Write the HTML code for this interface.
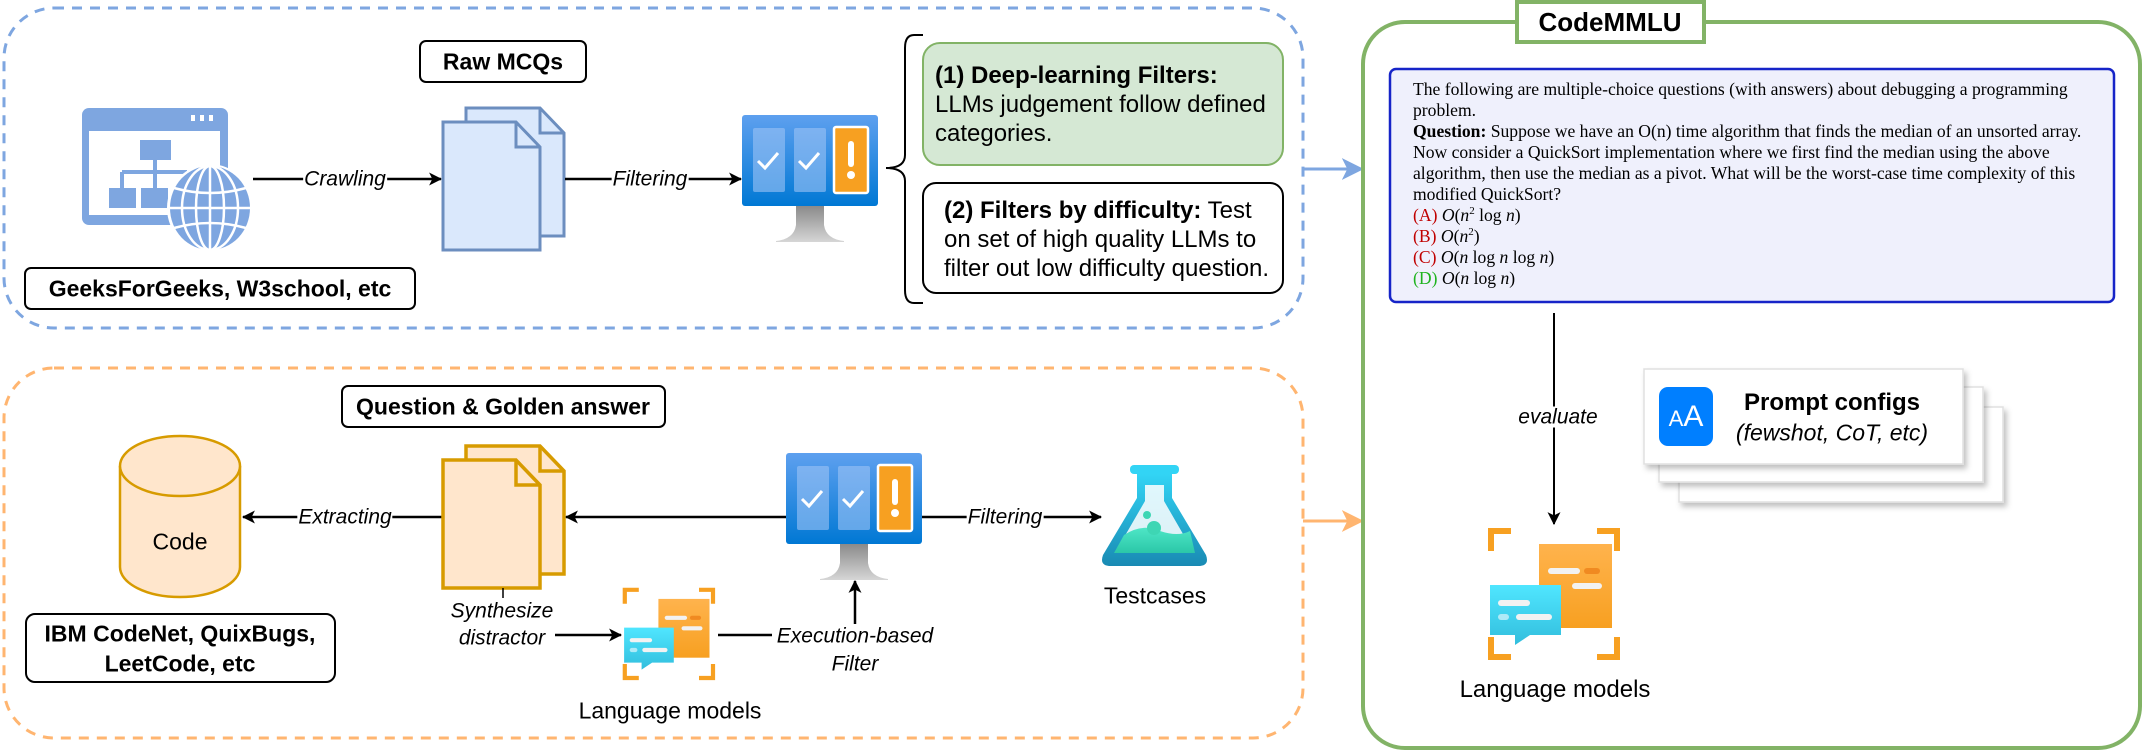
<!DOCTYPE html>
<html><head><meta charset="utf-8">
<style>
html,body{margin:0;padding:0;background:#fff;}
#root{position:relative;width:2144px;height:752px;overflow:hidden;font-family:"Liberation Sans",Arial,sans-serif;color:#000;}
svg{position:absolute;left:0;top:0;}
.c{position:absolute;transform:translate(-50%,-50%);white-space:nowrap;line-height:1;}
.lbl{font-style:italic;font-size:21px;background:#fff;padding:0 1px;}
.b{font-weight:bold;font-size:23px;}
.t{position:absolute;white-space:nowrap;}
.q{font-family:"Liberation Serif","Times New Roman",serif;font-size:17.6px;line-height:21px;left:1413px;top:79px;}
.red{color:#c00000;} .grn{color:#1fb31f;}
.m{font-style:italic;}
</style></head><body><div id="root">
<svg width="2144" height="752" viewBox="0 0 2144 752">
<defs>
<marker id="ar" viewBox="0 0 12 12" refX="11" refY="6" markerWidth="13" markerHeight="13" markerUnits="userSpaceOnUse" orient="auto">
<path d="M0,0 L12,6 L0,12 L3,6 z" fill="#000"/></marker>
<marker id="arB" viewBox="0 0 12 12" refX="11" refY="6" markerWidth="22" markerHeight="22" markerUnits="userSpaceOnUse" orient="auto">
<path d="M0,0 L12,6 L0,12 L3,6 z" fill="#7EA6E0"/></marker>
<marker id="arO" viewBox="0 0 12 12" refX="11" refY="6" markerWidth="22" markerHeight="22" markerUnits="userSpaceOnUse" orient="auto">
<path d="M0,0 L12,6 L0,12 L3,6 z" fill="#FFB570"/></marker>
<linearGradient id="scr" x1="0" y1="0" x2="0" y2="1"><stop offset="0" stop-color="#5EA0EF"/><stop offset="1" stop-color="#0078D4"/></linearGradient>
<linearGradient id="std" x1="0" y1="0" x2="0" y2="1"><stop offset="0" stop-color="#8a8a8a"/><stop offset="1" stop-color="#d6d6d6"/></linearGradient>
<linearGradient id="og" x1="0" y1="0" x2="0" y2="1"><stop offset="0" stop-color="#FFB34D"/><stop offset="1" stop-color="#F7A021"/></linearGradient>
<linearGradient id="cy" x1="0" y1="0" x2="0" y2="1"><stop offset="0" stop-color="#50E6FF"/><stop offset="1" stop-color="#32BEDD"/></linearGradient>
<linearGradient id="fl" x1="0" y1="0" x2="0" y2="1"><stop offset="0" stop-color="#32D4F5"/><stop offset="1" stop-color="#198AB3"/></linearGradient>
<linearGradient id="liq" x1="0" y1="0" x2="0" y2="1"><stop offset="0" stop-color="#4EE6C6"/><stop offset="1" stop-color="#2BC7A8"/></linearGradient>
<filter id="sh" x="-10%" y="-10%" width="130%" height="140%"><feDropShadow dx="3" dy="4" stdDeviation="3" flood-color="#000" flood-opacity="0.25"/></filter>
<g id="mon">
<rect x="0" y="0" width="136" height="91" rx="3" fill="url(#scr)"/>
<rect x="11" y="13" width="32" height="64" rx="2" fill="#9CC3F5" opacity="0.6"/>
<rect x="52" y="13" width="32" height="64" rx="2" fill="#9CC3F5" opacity="0.6"/>
<path d="M16,46 L23,53 L36,38" stroke="#fff" stroke-width="3" fill="none"/>
<path d="M57,46 L64,53 L77,38" stroke="#fff" stroke-width="3" fill="none"/>
<rect x="92" y="12" width="34" height="66" rx="2" fill="#F7A021" stroke="#fff" stroke-width="2.5"/>
<rect x="106" y="26" width="6" height="26" rx="3" fill="#fff"/>
<circle cx="109" cy="60" r="4" fill="#fff"/>
<path d="M54,91 L82,91 L82,110 Q84,124 102,126 L102,127 L34,127 L34,126 Q52,124 54,110 Z" fill="url(#std)"/>
</g>
<g id="lm">
<path d="M4,24 V4 H24 M110,4 H130 V24 M4,110 V130 H24 M110,130 H130 V110" stroke="#F7A021" stroke-width="6" fill="none"/>
<rect x="52" y="17" width="73" height="84" fill="url(#og)"/>
<rect x="61" y="41" width="32" height="6" rx="3" fill="#f2f2f2"/>
<rect x="97" y="41" width="16" height="6" rx="3" fill="#F08A21"/>
<rect x="85" y="56" width="30" height="6" rx="3" fill="#f2f2f2"/>
<path d="M3,58 H74 V108 H43 L28,118 L28,108 H3 Z" fill="url(#cy)"/>
<rect x="11" y="73" width="32" height="6" rx="3" fill="#f2f2f2"/>
<rect x="11" y="87" width="11" height="6" rx="3" fill="#aeeaf7"/>
<rect x="29" y="87" width="36" height="6" rx="3" fill="#f2f2f2"/>
</g>
</defs>

<rect x="4" y="8" width="1299" height="320" rx="50" fill="none" stroke="#7EA6E0" stroke-width="3" stroke-dasharray="10 8"/>
<rect x="4" y="368" width="1299" height="370" rx="50" fill="none" stroke="#FFB570" stroke-width="3" stroke-dasharray="10 8"/>
<line x1="1303" y1="169" x2="1362" y2="169" stroke="#7EA6E0" stroke-width="3" marker-end="url(#arB)"/>
<line x1="1303" y1="521" x2="1362" y2="521" stroke="#FFB570" stroke-width="3" marker-end="url(#arO)"/>

<rect x="1363" y="22" width="777" height="726" rx="42" fill="none" stroke="#82B366" stroke-width="4"/>
<rect x="1517" y="2" width="187" height="40" fill="#fff" stroke="#82B366" stroke-width="4"/>
<rect x="1390" y="69" width="724" height="233" rx="6" fill="#EFF0FC" stroke="#1624C8" stroke-width="2.5"/>
<line x1="1554" y1="313" x2="1554" y2="524" stroke="#000" stroke-width="2" marker-end="url(#ar)"/>
<rect x="1679" y="407" width="324" height="95" fill="#fff" stroke="#e0e0e0" stroke-width="1.5" filter="url(#sh)"/>
<rect x="1659" y="387" width="324" height="95" fill="#fff" stroke="#e0e0e0" stroke-width="1.5" filter="url(#sh)"/>
<rect x="1644" y="369" width="319" height="95" fill="#fff" stroke="#e0e0e0" stroke-width="1.5" filter="url(#sh)"/>
<rect x="1659" y="387" width="54" height="59" rx="9" fill="#007FFF"/>
<use href="#lm" transform="translate(1487,527)"/>

<rect x="420" y="41" width="166" height="41" rx="6" fill="#fff" stroke="#000" stroke-width="2"/>
<rect x="25" y="268" width="390" height="41" rx="6" fill="#fff" stroke="#000" stroke-width="2"/>
<g transform="translate(82,108)">
<rect x="0" y="0" width="146" height="117" rx="7" fill="#7EA6E0"/>
<rect x="7" y="23" width="131" height="84" fill="#fff"/>
<rect x="109" y="7" width="4" height="6" fill="#fff"/><rect x="118" y="7" width="4" height="6" fill="#fff"/><rect x="127" y="7" width="4" height="6" fill="#fff"/>
<rect x="58" y="32" width="31" height="20" fill="#7EA6E0"/>
<path d="M73,52 V64 M40,64 H105 M40,64 V80 M73,64 V80 M105,64 V80" stroke="#7EA6E0" stroke-width="4" fill="none"/>
<rect x="27" y="80" width="27" height="20" fill="#7EA6E0"/><rect x="59" y="80" width="27" height="20" fill="#7EA6E0"/>
<ellipse cx="128" cy="100" rx="43" ry="44" fill="#fff"/>
<ellipse cx="128" cy="100" rx="40" ry="42" fill="#7EA6E0"/>
<g stroke="#fff" stroke-width="2.5" fill="none">
<ellipse cx="128" cy="100" rx="14" ry="42"/><ellipse cx="128" cy="100" rx="28" ry="42"/>
<line x1="128" y1="58" x2="128" y2="142"/>
<path d="M92,80 Q128,90 164,80 M88,100 H168 M92,120 Q128,110 164,120"/>
</g>
</g>
<line x1="253" y1="179" x2="441" y2="179" stroke="#000" stroke-width="2.5" marker-end="url(#ar)"/>
<g fill="#DAE8FC" stroke="#6C8EBF" stroke-width="3">
<path d="M466,108 H540 L564,133 V236 H466 Z"/><path d="M540,108 V133 H564" fill="none"/>
<path d="M443,122 H516 L540,147 V250 H443 Z"/><path d="M516,122 V147 H540" fill="none"/>
</g>
<line x1="565" y1="179" x2="741" y2="179" stroke="#000" stroke-width="2.5" marker-end="url(#ar)"/>
<use href="#mon" transform="translate(742,115)"/>
<path d="M923,35 H914 Q905,35 905,48 V155 Q905,168 886,168 Q905,168 905,181 V290 Q905,303 914,303 H923" fill="none" stroke="#000" stroke-width="2"/>
<rect x="923" y="43" width="360" height="122" rx="17" fill="#D5E8D4" stroke="#82B366" stroke-width="2"/>
<rect x="923" y="183" width="360" height="110" rx="13" fill="#fff" stroke="#000" stroke-width="2"/>

<rect x="342" y="386" width="323" height="41" rx="6" fill="#fff" stroke="#000" stroke-width="2"/>
<rect x="26" y="614" width="309" height="68" rx="9" fill="#fff" stroke="#000" stroke-width="2"/>
<path d="M120,466 V567 A60,30 0 0 0 240,567 V466" fill="#FFE6CC" stroke="#D79B00" stroke-width="2.5"/>
<ellipse cx="180" cy="466" rx="60" ry="30" fill="#FFE6CC" stroke="#D79B00" stroke-width="2.5"/>
<line x1="442" y1="517" x2="243" y2="517" stroke="#000" stroke-width="2.5" marker-end="url(#ar)"/>
<g fill="#FFE6CC" stroke="#D79B00" stroke-width="3.5">
<path d="M466,446 H540 L564,471 V574 H466 Z"/><path d="M540,446 V471 H564" fill="none"/>
<path d="M443,460 H516 L540,485 V588 H443 Z"/><path d="M516,460 V485 H540" fill="none"/>
</g>
<line x1="786" y1="517" x2="566" y2="517" stroke="#000" stroke-width="2.5" marker-end="url(#ar)"/>
<use href="#mon" transform="translate(786,453)"/>
<line x1="922" y1="517" x2="1101" y2="517" stroke="#000" stroke-width="2.5" marker-end="url(#ar)"/>
<g transform="translate(1102,465)">
<rect x="28" y="0" width="49" height="9" rx="4" fill="#32D4F5"/>
<path d="M35,9 H70 V33 L104,90 Q108,101 96,101 H9 Q-3,101 1,90 L35,33 Z" fill="url(#fl)"/>
<path d="M43,20 H62 V36 L92,88 H13 L43,36 Z" fill="#fff" opacity="0.85"/>
<path d="M22,70 Q40,58 58,66 Q76,72 88,66 L93,88 H12 Z" fill="url(#liq)"/>
<circle cx="45" cy="50" r="4" fill="#3ED6B4"/><circle cx="52" cy="63" r="7" fill="#3ED6B4"/>
</g>
<line x1="503" y1="588" x2="503" y2="598" stroke="#000" stroke-width="1.5"/>
<line x1="555" y1="635" x2="621" y2="635" stroke="#000" stroke-width="2.5" marker-end="url(#ar)"/>
<use href="#lm" transform="translate(622,587) scale(0.7)"/>
<line x1="718" y1="635" x2="772" y2="635" stroke="#000" stroke-width="2.5"/>
<line x1="855" y1="624" x2="855" y2="581" stroke="#000" stroke-width="2.5" marker-end="url(#ar)"/>
</svg>

<div class="c b" style="left:1610px;top:22px;font-size:26px;">CodeMMLU</div>
<div class="c b" style="left:503px;top:62px;">Raw MCQs</div>
<div class="c b" style="left:220px;top:289px;">GeeksForGeeks, W3school, etc</div>
<div class="c lbl" style="left:345px;top:179px;">Crawling</div>
<div class="c lbl" style="left:650px;top:179px;">Filtering</div>
<div class="t" style="left:935px;top:61px;font-size:24px;line-height:29px;"><b>(1) Deep-learning Filters:</b><br>LLMs judgement follow defined<br>categories.</div>
<div class="t" style="left:944px;top:196px;font-size:24px;line-height:29px;"><b>(2) Filters by difficulty:</b> Test<br>on set of high quality LLMs to<br>filter out low difficulty question.</div>

<div class="c b" style="left:503px;top:407px;">Question &amp; Golden answer</div>
<div class="c" style="left:180px;top:542px;font-size:23px;">Code</div>
<div class="c b" style="left:180px;top:634px;">IBM CodeNet, QuixBugs,</div>
<div class="c b" style="left:180px;top:664px;">LeetCode, etc</div>
<div class="c lbl" style="left:345px;top:517px;">Extracting</div>
<div class="c lbl" style="left:1005px;top:517px;">Filtering</div>
<div class="c" style="left:1155px;top:596px;font-size:23px;">Testcases</div>
<div class="c lbl" style="left:502px;top:611px;">Synthesize</div>
<div class="c lbl" style="left:502px;top:638px;">distractor</div>
<div class="c lbl" style="left:855px;top:636px;">Execution-based</div>
<div class="c lbl" style="left:855px;top:664px;">Filter</div>
<div class="c" style="left:670px;top:711px;font-size:23px;">Language models</div>

<div class="c lbl" style="left:1558px;top:417px;">evaluate</div>
<div class="c" style="left:1686px;top:417px;color:#fff;font-size:30px;"><span style="font-size:22px;">A</span>A</div>
<div class="c b" style="left:1832px;top:403px;font-size:24px;">Prompt configs</div>
<div class="c" style="left:1832px;top:433px;font-size:23px;font-style:italic;">(fewshot, CoT, etc)</div>
<div class="c" style="left:1555px;top:690px;font-size:24px;">Language models</div>

<div class="t q">The following are multiple-choice questions (with answers) about debugging a programming<br>problem.<br><b>Question:</b> Suppose we have an O(n) time algorithm that finds the median of an unsorted array.<br>Now consider a QuickSort implementation where we first find the median using the above<br>algorithm, then use the median as a pivot. What will be the worst-case time complexity of this<br>modified QuickSort?<br><span class="red">(A)</span> <span class="m">O</span>(<span class="m">n</span><sup style="font-size:11px;line-height:0">2</sup> log <span class="m">n</span>)<br><span class="red">(B)</span> <span class="m">O</span>(<span class="m">n</span><sup style="font-size:11px;line-height:0">2</sup>)<br><span class="red">(C)</span> <span class="m">O</span>(<span class="m">n</span> log <span class="m">n</span> log <span class="m">n</span>)<br><span class="grn">(D)</span> <span class="m">O</span>(<span class="m">n</span> log <span class="m">n</span>)</div>
</div></body></html>
